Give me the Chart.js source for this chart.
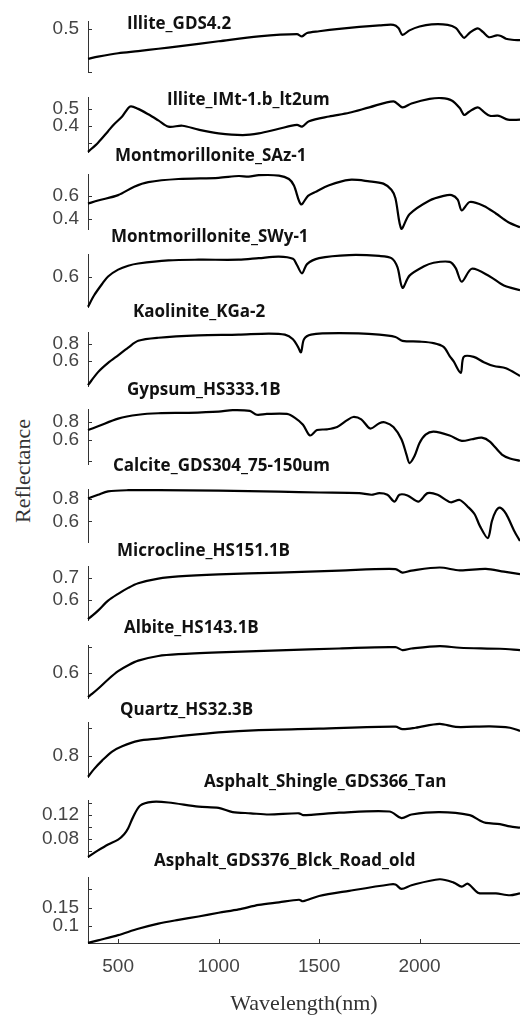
<!DOCTYPE html>
<html>
<head>
<meta charset="utf-8">
<script src="https://cdn.jsdelivr.net/npm/chart.js@4.4.1/dist/chart.umd.min.js"></script>
<style>
    html, body { margin: 0; padding: 0; background: #fff; }
    #wrap { position: relative; width: 520px; height: 1017px; overflow: hidden; }
    #wrap canvas { position: absolute; left: 0; }
    .name { position: absolute; font: bold 17px "Open Sans"; color: #111; white-space: nowrap; line-height: 20px; }
    #ylab { position: absolute; left: 23px; top: 471px; transform: translate(-50%, -50%) rotate(-90deg);
            font: 22px "Liberation Serif"; color: #333; white-space: nowrap; }
</style>
</head>
<body>
<div id="wrap"><div id="ylab">Reflectance</div></div>
<script>
// spectra, wavelength in nm / reflectance
const names = [
    "Illite_GDS4.2", "Illite_IMt-1.b_lt2um", "Montmorillonite_SAz-1", "Montmorillonite_SWy-1",
    "Kaolinite_KGa-2", "Gypsum_HS333.1B", "Calcite_GDS304_75-150um", "Microcline_HS151.1B",
    "Albite_HS143.1B", "Quartz_HS32.3B", "Asphalt_Shingle_GDS366_Tan", "Asphalt_GDS376_Blck_Road_old"
];

const wlIlliteGDS = [350,400,500,600,700,800,1000,1200,1390,1415,1440,1500,1600,1700,1800,1870,1895,1915,1950,2000,2060,2140,2180,2205,2222,2250,2290,2315,2345,2385,2405,2430,2460,2500];
const rIlliteGDS  = [0.360,0.370,0.386,0.396,0.407,0.418,0.442,0.465,0.475,0.465,0.481,0.489,0.500,0.509,0.516,0.519,0.504,0.472,0.493,0.511,0.521,0.519,0.505,0.475,0.458,0.482,0.502,0.486,0.461,0.470,0.467,0.454,0.449,0.447];

const wlIlliteIMt = [350,400,450,480,520,560,600,650,700,750,820,900,1000,1120,1200,1300,1390,1415,1450,1550,1650,1750,1870,1915,1960,2050,2110,2160,2200,2222,2245,2290,2320,2350,2395,2440,2500];
const rIlliteIMt  = [0.245,0.300,0.368,0.409,0.455,0.514,0.500,0.468,0.432,0.395,0.400,0.377,0.355,0.345,0.355,0.382,0.405,0.395,0.427,0.455,0.477,0.509,0.545,0.509,0.532,0.559,0.564,0.550,0.505,0.464,0.482,0.509,0.482,0.459,0.459,0.436,0.436];

const wlMontSAz = [350,400,500,580,650,800,1000,1100,1150,1200,1300,1350,1375,1410,1445,1480,1550,1650,1750,1820,1860,1880,1910,1950,2050,2120,2160,2190,2210,2250,2320,2380,2440,2500];
const rMontSAz  = [0.533,0.560,0.607,0.680,0.720,0.747,0.757,0.773,0.767,0.780,0.777,0.747,0.690,0.527,0.600,0.633,0.693,0.740,0.727,0.707,0.653,0.580,0.313,0.440,0.560,0.600,0.607,0.567,0.473,0.547,0.513,0.447,0.373,0.327];

const wlMontSWy = [350,380,420,450,500,550,600,750,900,1100,1200,1300,1370,1390,1415,1440,1500,1650,1800,1860,1890,1915,1950,2020,2070,2150,2180,2210,2260,2350,2420,2500];
const rMontSWy  = [0.427,0.493,0.560,0.604,0.644,0.667,0.680,0.698,0.702,0.702,0.711,0.720,0.707,0.671,0.622,0.676,0.711,0.729,0.724,0.711,0.658,0.538,0.609,0.662,0.684,0.689,0.653,0.573,0.649,0.604,0.551,0.524];

const wlKaolinite = [350,400,450,500,550,600,700,900,1100,1250,1330,1370,1395,1410,1425,1460,1600,1800,1880,1915,2000,2070,2120,2150,2170,2205,2220,2270,2320,2370,2430,2500];
const rKaolinite  = [0.324,0.474,0.580,0.668,0.756,0.835,0.870,0.897,0.906,0.919,0.906,0.853,0.765,0.703,0.853,0.906,0.923,0.906,0.879,0.835,0.826,0.809,0.765,0.659,0.597,0.465,0.650,0.650,0.589,0.544,0.518,0.430];

const wlGypsum = [350,400,500,600,700,850,1000,1070,1155,1190,1240,1340,1380,1420,1455,1490,1540,1590,1640,1670,1710,1755,1800,1830,1870,1910,1935,1950,1975,2000,2030,2070,2150,2210,2260,2310,2350,2410,2450,2500];
const rGypsum  = [0.706,0.748,0.834,0.877,0.894,0.899,0.912,0.929,0.920,0.877,0.886,0.886,0.843,0.766,0.645,0.706,0.714,0.740,0.817,0.852,0.826,0.723,0.783,0.791,0.740,0.603,0.431,0.336,0.414,0.560,0.654,0.688,0.645,0.585,0.603,0.620,0.577,0.431,0.388,0.362];

const wlCalcite = [350,400,450,550,700,1000,1300,1500,1700,1760,1800,1840,1875,1900,1940,1995,2040,2090,2155,2200,2245,2275,2300,2340,2360,2380,2400,2430,2470,2500];
const rCalcite  = [0.800,0.833,0.863,0.873,0.873,0.870,0.860,0.853,0.847,0.833,0.847,0.833,0.773,0.833,0.827,0.773,0.847,0.833,0.767,0.787,0.720,0.660,0.560,0.453,0.600,0.690,0.720,0.667,0.520,0.427];

const wlMicrocline = [350,370,400,450,500,550,600,700,800,1000,1300,1600,1880,1915,1960,2100,2200,2330,2420,2500];
const rMicrocline  = [0.514,0.528,0.552,0.597,0.628,0.655,0.676,0.697,0.707,0.716,0.724,0.733,0.740,0.724,0.733,0.747,0.734,0.741,0.728,0.717];

const wlAlbite = [350,370,400,450,500,550,600,700,800,1000,1300,1600,1880,1915,1960,2100,2200,2400,2500];
const rAlbite  = [0.506,0.518,0.538,0.574,0.606,0.629,0.647,0.665,0.672,0.679,0.687,0.694,0.699,0.688,0.694,0.703,0.697,0.693,0.688];

const wlQuartz = [350,380,420,470,520,600,700,800,1000,1200,1500,1880,1915,1980,2100,2180,2350,2450,2500];
const rQuartz  = [0.727,0.754,0.784,0.816,0.835,0.854,0.862,0.870,0.884,0.892,0.897,0.904,0.895,0.900,0.914,0.903,0.905,0.900,0.889];

const wlShingle = [350,400,450,500,530,550,575,610,670,750,900,1000,1070,1160,1250,1400,1420,1600,1850,1910,1960,2100,2250,2300,2330,2400,2450,2500];
const rShingle  = [0.050,0.061,0.071,0.079,0.088,0.098,0.117,0.136,0.142,0.141,0.134,0.132,0.125,0.123,0.121,0.123,0.120,0.124,0.126,0.115,0.121,0.125,0.120,0.111,0.107,0.105,0.101,0.099];

const wlRoad = [350,400,500,600,700,800,900,1000,1100,1200,1300,1400,1420,1500,1650,1850,1880,1910,1960,2100,2170,2210,2240,2290,2330,2380,2450,2500];
const rRoad  = [0.055,0.062,0.076,0.093,0.107,0.117,0.126,0.136,0.145,0.157,0.164,0.171,0.167,0.181,0.195,0.212,0.212,0.200,0.210,0.226,0.217,0.206,0.214,0.190,0.188,0.188,0.183,0.188];

const spectraWl = [wlIlliteGDS, wlIlliteIMt, wlMontSAz, wlMontSWy, wlKaolinite, wlGypsum, wlCalcite, wlMicrocline, wlAlbite, wlQuartz, wlShingle, wlRoad];
const spectraR = [rIlliteGDS, rIlliteIMt, rMontSAz, rMontSWy, rKaolinite, rGypsum, rCalcite, rMicrocline, rAlbite, rQuartz, rShingle, rRoad];

// axis limits and ticks of each panel
const yMin = [0.3, 0.241, 0.307, 0.422, 0.307, 0.319, 0.413, 0.507, 0.5, 0.724, 0.049, 0.0548];
const yMax = [0.535, 0.568, 0.787, 0.733, 0.932, 0.937, 0.88, 0.752, 0.706, 0.919, 0.1445, 0.231];
const yTicks = [[0.3, 0.5], [0.3, 0.4, 0.5], [0.4, 0.6], [0.6], [0.6, 0.8], [0.36, 0.6, 0.8], [0.6, 0.8],
                [0.6, 0.7], [0.6, 0.7], [0.8, 0.9], [0.06, 0.08, 0.1, 0.12, 0.14], [0.1, 0.15, 0.2]];
const yTickText = [["", "0.5"], ["", "0.4", "0.5"], ["0.4", "0.6"], ["0.6"], ["0.6", "0.8"], ["", "0.6", "0.8"], ["0.6", "0.8"],
                   ["0.6", "0.7"], ["0.6", ""], ["0.8", ""], ["", "0.08", "", "0.12", ""], ["0.1", "0.15", ""]];
const xMin = 350, xMax = 2500;
const xTicks = [500, 1000, 1500, 2000];

// layout (page pixels)
const panelTop = [13, 89, 166, 246, 324, 401, 481, 558, 637, 714, 792, 869];
const panelBottom = [80, 161, 238, 316, 395, 473, 551, 629, 707, 786, 866, 943];
const nameX = [127, 167, 115, 111, 133, 127, 113, 117, 124, 120, 204, 154];
const nameY = [23, 99, 155, 236, 311, 389, 465, 550, 627, 709, 781, 860];

const AXIS = "#333";
const TICK_FONT = { family: "Liberation Sans", size: 19 };
const PAD = 12, XAXIS_H = 74;

const inwardTicks = {
    id: "inwardTicks",
    afterDraw(chart) {
        const ctx = chart.ctx;
        const { x, y } = chart.scales;
        ctx.save();
        ctx.strokeStyle = AXIS;
        ctx.lineWidth = 1;
        y.ticks.forEach((t) => {
            const py = Math.round(y.getPixelForValue(t.value)) + 0.5;
            ctx.beginPath();
            ctx.moveTo(y.right, py);
            ctx.lineTo(y.right + 4, py);
            ctx.stroke();
        });
        if (x.options.display) {
            x.ticks.forEach((t) => {
                const px = Math.round(x.getPixelForValue(t.value)) + 0.5;
                ctx.beginPath();
                ctx.moveTo(px, x.top);
                ctx.lineTo(px, x.top - 4);
                ctx.stroke();
            });
        }
        ctx.restore();
    }
};

const wrap = document.getElementById("wrap");

names.forEach((name, i) => {
    const last = i === names.length - 1;
    const top = panelTop[i] - PAD;
    const h = panelBottom[i] - panelTop[i] + PAD + (last ? XAXIS_H : PAD);

    const canvas = document.createElement("canvas");
    canvas.width = 520;
    canvas.height = h;
    canvas.style.top = top + "px";
    wrap.appendChild(canvas);

    const label = document.createElement("div");
    label.className = "name";
    label.textContent = name;
    label.style.left = nameX[i] + "px";
    label.style.top = (nameY[i] - 10) + "px";
    wrap.appendChild(label);

    const xScale = {
        type: "linear",
        min: xMin,
        max: xMax,
        display: last,
        afterBuildTicks: (s) => { s.ticks = xTicks.map((v) => ({ value: v })); },
        grid: { display: false, drawTicks: false },
        border: { display: true, color: AXIS, width: 1 },
        ticks: { autoSkip: false, maxRotation: 0, padding: 12, color: "#444", font: TICK_FONT,
                 callback: (v) => String(v) },
        title: { display: true, text: "Wavelength(nm)", color: "#333",
                 font: { family: "Liberation Serif", size: 22 }, padding: { top: 0, bottom: 0 } }
    };
    if (last) xScale.afterFit = (s) => { s.height = XAXIS_H; };

    new Chart(canvas.getContext("2d"), {
        type: "line",
        data: {
            datasets: [{
                data: spectraWl[i].map((w, k) => ({ x: w, y: spectraR[i][k] })),
                borderColor: "#000",
                borderWidth: 2.2,
                pointRadius: 0,
                tension: 0.3,
                clip: false
            }]
        },
        options: {
            responsive: false,
            animation: false,
            devicePixelRatio: 1,
            events: [],
            layout: { padding: { top: PAD, bottom: last ? 0 : PAD, left: 0, right: 0 } },
            plugins: { legend: { display: false }, tooltip: { enabled: false } },
            scales: {
                x: xScale,
                y: {
                    type: "linear",
                    min: yMin[i],
                    max: yMax[i],
                    afterBuildTicks: (s) => { s.ticks = yTicks[i].map((v) => ({ value: v })); },
                    afterFit: (s) => { s.width = 88; },
                    grid: { display: false, drawTicks: false },
                    border: { display: true, color: AXIS, width: 1 },
                    ticks: { autoSkip: false, padding: 9, color: "#444", font: TICK_FONT,
                             callback: (v, k) => yTickText[i][k] }
                }
            }
        },
        plugins: [inwardTicks]
    });
});
</script>
</body>
</html>
